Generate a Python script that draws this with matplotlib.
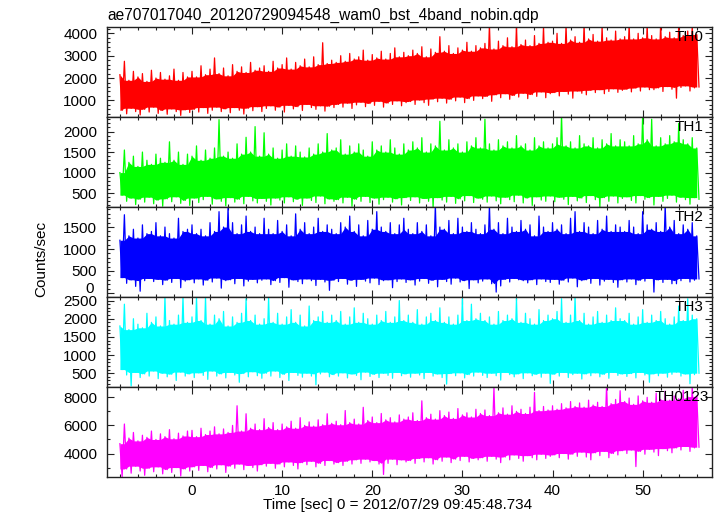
import numpy as np
import matplotlib
matplotlib.use("Agg")
import matplotlib.pyplot as plt
from matplotlib.ticker import MultipleLocator, FuncFormatter

plt.rcParams["font.family"] = ["Liberation Sans", "DejaVu Sans"]

# light curves: upper / lower edge of the noise band, one value per 0.5 s
t_start = -8.0
t_step = 0.5

th0_hi = [2150, 2750, 1900, 2300, 2050, 2200, 1850, 2350, 2000, 2250, 1950, 2100, 2400, 1900, 2250, 2050,
          2300, 2050, 2550, 2150, 2400, 2900, 2200, 2450, 2100, 2600, 2300, 2500, 2250, 2700, 2350, 2450,
          2550, 2300, 2750, 2450, 2600, 2900, 2400, 2700, 2550, 2850, 2500, 2950, 2600, 3580, 2650, 2800,
          2700, 3000, 2750, 3100, 2850, 2950, 3250, 2800, 3050, 2900, 3200, 2850, 3100, 3350, 2950, 3150,
          3000, 3250, 3100, 3400, 2950, 3300, 3150, 3850, 3200, 3450, 3100, 3350, 3250, 3600, 3200, 3450,
          3350, 3550, 4400, 3300, 3650, 3450, 3800, 3400, 4350, 3500, 3700, 3450, 3900, 3550, 4300, 3600,
          3650, 4000, 3550, 4350, 3700, 3850, 3600, 4400, 3750, 3950, 3650, 4300, 3800, 3700, 4100, 3750,
          3850, 4400, 3750, 4000, 3800, 4350, 3900, 3750, 4450, 3850, 4050, 3800, 4400, 3900, 4100, 4350,
          3950]
th0_lo = [550, 400, 650, 500, 350, 600, 480, 700, 420, 550, 380, 620, 500, 330, 580, 460,
          600, 480, 680, 420, 560, 700, 500, 620, 450, 680, 560, 390, 650, 540, 720, 500,
          640, 760, 560, 700, 480, 780, 620, 720, 550, 820, 680, 600, 760, 520, 740, 680,
          820, 700, 880, 640, 800, 920, 720, 860, 780, 960, 700, 880, 820, 980, 760, 900,
          950, 820, 1020, 900, 780, 1060, 940, 1100, 880, 1050, 980, 1150, 900, 1080, 1000, 1200,
          1080, 1180, 960, 1250, 1120, 1300, 1050, 1220, 1150, 1320, 1080, 1260, 1180, 1380, 1120, 1300,
          1350, 1200, 1400, 1280, 1100, 1420, 1320, 1250, 1450, 1350, 1480, 1300, 1400, 1520, 1360, 1450,
          1500, 1380, 1550, 1420, 1600, 1480, 1480, 1560, 1400, 1620, 1500, 1100, 1580, 1650, 1420, 1560,
          1600]

th1_hi = [1000, 1550, 1250, 1400, 1150, 1500, 1300, 1200, 1450, 1350, 1250, 1750, 1300, 1500, 1200, 1450,
          1400, 1650, 1300, 1550, 1350, 1600, 2290, 1400, 1500, 1350, 1700, 1450, 1860, 1500, 2120, 1400,
          1970, 1450, 1600, 1350, 1550, 1700, 1400, 1650, 1500, 1380, 1600, 1450, 1700, 1500, 1950, 1550,
          1600, 1800, 1450, 1650, 1500, 1700, 1550, 1400, 1750, 1550, 1650, 1500, 1800, 1600, 1450, 1700,
          1550, 1750, 1600, 1850, 1500, 1700, 1650, 2250, 1550, 1800, 1600, 1700, 1500, 1750, 1650, 1850,
          1600, 2300, 1700, 1550, 1800, 1650, 1750, 1600, 1900, 1650, 1700, 1550, 1850, 1650, 1750, 1600,
          1700, 1850, 2400, 1650, 1750, 1600, 1900, 1700, 1650, 1850, 1600, 1800, 1700, 1950, 1650, 1800,
          1750, 1650, 1900, 1700, 2400, 1800, 2300, 1650, 1850, 1700, 1900, 1750, 2200, 1800, 1700, 1850,
          1600]
th1_lo = [450, 300, 380, 220, 350, 280, 400, 240, 330, 180, 360, 290, 410, 250, 320, 200,
          380, 270, 340, 420, 230, 360, 300, 190, 390, 280, 350, 240, 420, 310, 260, 370,
          300, 210, 380, 330, 260, 410, 290, 350, 200, 380, 320, 270, 430, 240, 360, 300,
          340, 260, 400, 180, 350, 300, 420, 270, 380, 230, 340, 400, 280, 360, 210, 390,
          320, 410, 260, 370, 300, 150, 390, 330, 280, 420, 250, 360, 310, 440, 270, 380,
          350, 280, 430, 310, 240, 400, 340, 290, 450, 260, 380, 200, 410, 330, 300, 430,
          290, 400, 350, 220, 420, 310, 380, 270, 440, 340, 150, 390, 300, 430, 260, 370,
          410, 320, 260, 440, 350, 390, 210, 420, 300, 370, 450, 280, 400, 340, 230, 390,
          350]

th2_hi = [1200, 1780, 1300, 1450, 1250, 1550, 1350, 1400, 1600, 1300, 1500, 1350, 1250, 1700, 1400, 1450,
          1550, 1350, 1450, 1300, 1600, 1400, 1850, 1500, 1950, 1600, 1350, 1550, 1750, 1400, 1500, 1350,
          1700, 1450, 1350, 1650, 1400, 1550, 1300, 1800, 1450, 1600, 1350, 1500, 1700, 1400, 1550, 1450,
          1350, 1600, 1500, 1750, 1400, 1550, 1300, 1650, 1450, 1850, 1500, 1400, 1600, 1350, 1550, 1700,
          1450, 1350, 1600, 1400, 1550, 1300, 2000, 1500, 1450, 1650, 1350, 1700, 1500, 1400, 1600, 1450,
          1350, 1550, 2000, 1450, 1600, 1350, 1700, 1500, 1400, 1650, 1450, 1550, 1300, 1750, 1500, 1400,
          1600, 1450, 1550, 1350, 1700, 1850, 1400, 1600, 1500, 1350, 1650, 1450, 1750, 1400, 1550, 1500,
          1400, 1650, 1500, 1350, 1850, 1550, 1450, 1600, 1400, 2000, 1500, 1650, 1350, 1550, 1450, 1600,
          1300]
th2_lo = [350, 220, 300, 150, 40, 280, 330, 260, 310, 190, 290, 240, 330, 120, 270, 300,
          230, 320, 180, 290, 250, 340, 110, 280, 300, 210, 330, 160, 270, 310, 230, 290,
          320, 190, 280, 240, 350, 130, 300, 260, 210, 320, 280, 170, 310, 250, 60, 290,
          260, 330, 200, 290, 150, 310, 270, 230, 340, 190, 280, 300, 120, 260, 320, 240,
          300, 180, 270, 330, 220, 290, 140, 310, 260, 200, 340, 250, 280, 100, 300, 230,
          270, 320, 210, 20, 160, 310, 250, 330, 300, 280, 230, 300, 190, 320, 260, 240,
          310, 200, 290, 250, 340, 140, 280, 300, 220, 330, 180, 270, 310, 240, 130, 300,
          250, 320, 190, 290, 270, 330, 20, 300, 240, 310, 210, 210, 280, 330, 250, 290,
          320]

th3_hi = [1800, 2400, 1700, 2000, 1850, 1750, 2150, 1900, 2050, 1800, 2600, 1950, 1850, 2100, 2600, 1900,
          2050, 2600, 1950, 2600, 1850, 2100, 2000, 2200, 1800, 2050, 1900, 2150, 2550, 1950, 2100, 1850,
          2000, 2600, 1900, 2150, 1850, 2050, 2250, 1900, 2100, 1800, 2350, 1950, 2050, 2200, 1900, 2100,
          1950, 2200, 1850, 2050, 2300, 1900, 2150, 2000, 1850, 2100, 1950, 2200, 1900, 2050, 2500, 1950,
          2100, 1900, 2250, 1850, 2050, 2150, 1950, 2300, 1900, 2050, 1850, 2100, 2550, 1950, 2400, 2000,
          2150, 1950, 2050, 1850, 2200, 1950, 2100, 2000, 2550, 1900, 2150, 2000, 1850, 2250, 1950, 2100,
          2000, 2200, 2550, 1900, 2100, 2600, 1950, 2150, 1850, 2050, 2200, 1900, 2100, 1950, 2300, 2000,
          1950, 2150, 1850, 2050, 2250, 1900, 2100, 1950, 2200, 2000, 1850, 2050, 2350, 1950, 2550, 2100,
          2000]
th3_lo = [600, 450, 150, 520, 380, 480, 420, 560, 350, 500, 400, 470, 300, 530, 420, 480,
          380, 510, 440, 330, 560, 420, 480, 370, 520, 450, 250, 490, 400, 540, 430, 360,
          500, 420, 560, 380, 470, 300, 520, 440, 390, 500, 420, 180, 480, 530, 400, 460,
          420, 510, 370, 480, 440, 320, 530, 410, 470, 380, 500, 440, 360, 520, 430, 480,
          390, 500, 450, 350, 520, 420, 480, 380, 200, 490, 430, 510, 370, 460, 420, 530,
          440, 380, 500, 430, 310, 520, 460, 400, 480, 350, 510, 430, 470, 390, 500, 220,
          470, 420, 520, 380, 460, 500, 340, 480, 430, 510, 400, 470, 360, 520, 440, 480,
          410, 490, 370, 520, 450, 250, 480, 430, 500, 390, 470, 530, 420, 480, 210, 460,
          500]

th0123_hi = [4700, 6100, 5100, 5500, 4900, 5300, 5150, 5600, 5000, 5400, 5200, 5700, 5050, 5450, 5250, 5600,
             5650, 5200, 5800, 5350, 5600, 5900, 5400, 5750, 5500, 6000, 7400, 5600, 6830, 5800, 6100, 5700,
             6480, 5850, 6200, 5700, 6100, 5900, 6300, 5800, 6550, 6000, 6250, 5950, 6400, 6050, 6830, 6150,
             6300, 6050, 7060, 6200, 6450, 6100, 7290, 6350, 6600, 6200, 6850, 6400, 6550, 6250, 6750, 6450,
             6600, 6900, 6350, 7750, 6550, 6800, 6450, 7050, 6700, 6950, 6500, 7200, 6750, 6900, 6600, 7150,
             6850, 7100, 6700, 8700, 6900, 7250, 6800, 7400, 7000, 7150, 6850, 7300, 8350, 7050, 7350, 7100,
             7400, 7150, 7550, 7250, 7700, 7350, 7600, 7300, 7800, 7450, 7650, 7350, 8900, 7550, 7850, 8470,
             7700, 7950, 7500, 8100, 7750, 8000, 7650, 8300, 7850, 8450, 7800, 8100, 7900, 8500, 8050, 8800,
             8100]
th0123_lo = [2350, 2900, 2600, 3100, 2750, 2450, 2950, 2700, 3050, 2550, 2850, 2650, 3000, 2400, 2900, 2750,
             3050, 2800, 3150, 2700, 3000, 2900, 3200, 2650, 3100, 2950, 3250, 2850, 3150, 3000, 2750, 3200,
             3100, 3300, 2950, 3250, 3050, 3400, 3150, 2900, 3350, 3200, 3450, 3050, 3300, 3150, 3500, 3250,
             3350, 3150, 3450, 3250, 3550, 3300, 3600, 3400, 3500, 3250, 2510, 3300, 3600, 3200, 3550, 3400,
             3500, 3300, 3650, 3400, 3700, 3250, 3550, 3450, 3750, 3350, 3600, 3500, 3800, 3400, 3650, 3550,
             3700, 3450, 3800, 3600, 3350, 3750, 3550, 3900, 3650, 3450, 3850, 3700, 3550, 3950, 3650, 3800,
             3900, 3700, 4000, 3600, 3950, 3800, 4100, 3750, 3550, 4050, 3850, 4150, 3700, 4000, 3900, 4200,
             4000, 4250, 3070, 4150, 3950, 4300, 4100, 3850, 4350, 4200, 4050, 4400, 4250, 4500, 4150, 4400,
             4450]

bands = ["TH0", "TH1", "TH2", "TH3", "TH0123"]
his = [th0_hi, th1_hi, th2_hi, th3_hi, th0123_hi]
los = [th0_lo, th1_lo, th2_lo, th3_lo, th0123_lo]
colors = ["#ff0000", "#00ff00", "#0000ff", "#00ffff", "#ff00ff"]
ylims = [(250, 4270), (160, 2350), (-90, 1955), (125, 2600), (2350, 8750)]
majors = [1000, 500, 500, 500, 2000]
minors = [200, 100, 100, 100, 1000]
label_x = [0.939, 0.939, 0.939, 0.938, 0.906]

fig = plt.figure(figsize=(7.17, 5.16), dpi=100)
left = 107 / 717
width = (711.7 - 107) / 717
bottom = 0.0762
top = 0.9471
h = (top - bottom) / 5

for i in range(5):
    ax = fig.add_axes([left, top - (i + 1) * h, width, h])
    hi = np.array(his[i])
    lo = np.array(los[i])
    t = t_start + t_step * np.arange(len(hi))
    c = colors[i]

    # solid body of the band: lowest peak / highest dip among neighbours
    hp = np.r_[hi[0], hi, hi[-1]]
    lp = np.r_[lo[0], lo, lo[-1]]
    body_hi = np.minimum(np.minimum(hp[:-2], hp[1:-1]), hp[2:])
    body_lo = np.maximum(np.maximum(lp[:-2], lp[1:-1]), lp[2:])
    ax.fill_between(t, body_lo, body_hi, color=c, lw=0)

    # the light curve itself: up to each peak, down to each dip
    zx = np.ravel(np.column_stack([t, t + t_step / 2]))
    zy = np.ravel(np.column_stack([hi, lo]))
    ax.plot(zx, zy, color=c, lw=0.9)

    ax.set_xlim(-9.43, 57.66)
    ax.set_ylim(*ylims[i])
    ax.xaxis.set_major_locator(MultipleLocator(10))
    ax.xaxis.set_minor_locator(MultipleLocator(2))
    ax.yaxis.set_major_locator(MultipleLocator(majors[i]))
    ax.yaxis.set_minor_locator(MultipleLocator(minors[i]))
    ax.tick_params(which="both", direction="in", top=True, right=True,
                   labelbottom=(i == 4), labelsize=11, width=0.8, colors="#222222",
                   labelcolor="black")
    ax.tick_params(which="major", length=5)
    ax.tick_params(which="minor", length=2.5)
    ax.tick_params(axis="y", which="major", pad=7)
    ax.tick_params(axis="x", which="major", pad=5)
    for s in ax.spines.values():
        s.set_color("#222222")
        s.set_linewidth(1.0)
    ax.text(label_x[i], 0.89, bands[i], transform=ax.transAxes, fontsize=11,
            ha="left", va="center")

    if bands[i] == "TH2":
        # the "0" label sits on the panel border; nudge it up so it clears "2500" below
        ax.yaxis.set_major_formatter(FuncFormatter(lambda v, p: "" if v == 0 else "%d" % v))
        ax.annotate("0", xy=(0, 0), xycoords=("axes fraction", "data"),
                    xytext=(-9.4, 2.5), textcoords="offset points",
                    ha="right", va="center", fontsize=11)

fig.text(107 / 717, 1 - 15 / 516, "ae707017040_20120729094548_wam0_bst_4band_nobin.qdp",
         fontsize=11.2, ha="left", va="center")
fig.text(41 / 717, 1 - 259 / 516, "Counts/sec", fontsize=11, rotation=90,
         ha="center", va="center")
fig.text(398 / 717, 1 - 505 / 516, "Time [sec] 0 = 2012/07/29 09:45:48.734",
         fontsize=11, ha="center", va="center")

fig.savefig("out.png", dpi=100)
